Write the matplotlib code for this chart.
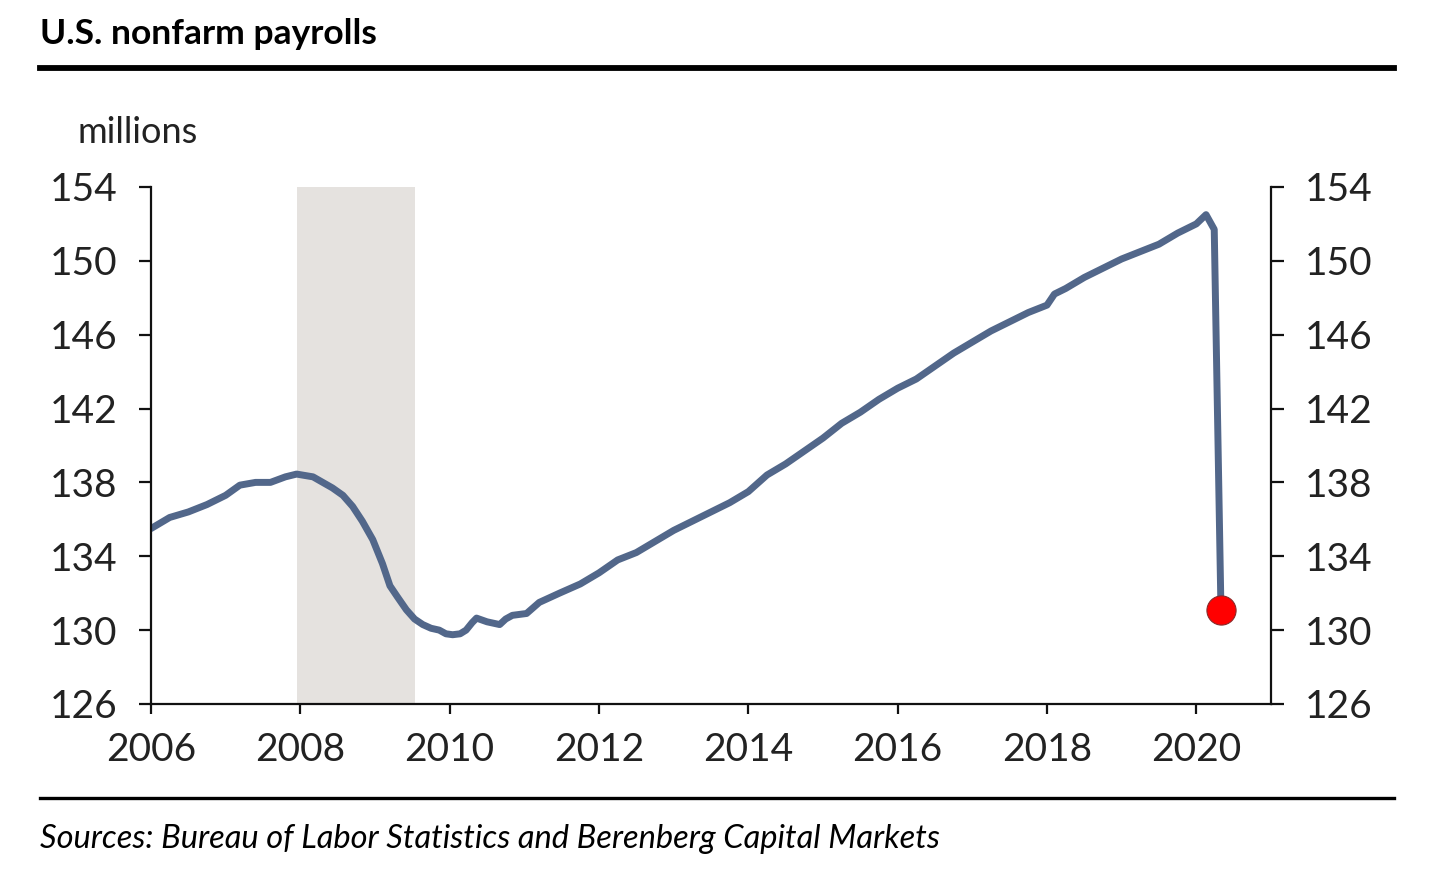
import matplotlib
matplotlib.use("Agg")
import matplotlib.pyplot as plt
from matplotlib.lines import Line2D

plt.rcParams['font.family'] = ['Lato', 'DejaVu Sans']

# data (decimal year, millions)
years = [2006.0, 2006.25, 2006.5, 2006.75, 2007.0, 2007.19, 2007.4, 2007.6, 2007.8, 2007.95,
         2008.17, 2008.3, 2008.43, 2008.57, 2008.7, 2008.83, 2008.97, 2009.1, 2009.2, 2009.3,
         2009.42, 2009.53, 2009.64, 2009.75, 2009.86, 2009.95, 2010.04, 2010.14, 2010.22, 2010.3,
         2010.36, 2010.5, 2010.67, 2010.75, 2010.84, 2011.03, 2011.2, 2011.47, 2011.75, 2012.0,
         2012.25, 2012.5, 2012.75, 2013.0, 2013.25, 2013.5, 2013.75, 2014.0, 2014.25, 2014.5,
         2014.75, 2015.0, 2015.25, 2015.5, 2015.75, 2016.0, 2016.25, 2016.5, 2016.75, 2017.0,
         2017.25, 2017.5, 2017.75, 2018.0, 2018.1, 2018.25, 2018.5, 2018.75, 2019.0, 2019.25,
         2019.5, 2019.75, 2020.0, 2020.13, 2020.24, 2020.33]
payrolls = [135.5, 136.1, 136.4, 136.8, 137.3, 137.85, 138.0, 138.0, 138.3, 138.45,
            138.3, 138.0, 137.7, 137.3, 136.7, 135.9, 134.9, 133.6, 132.4, 131.8,
            131.1, 130.6, 130.3, 130.1, 130.0, 129.8, 129.75, 129.8, 130.0, 130.4,
            130.65, 130.45, 130.3, 130.6, 130.8, 130.9, 131.5, 132.0, 132.5, 133.1,
            133.8, 134.2, 134.8, 135.4, 135.9, 136.4, 136.9, 137.5, 138.4, 139.0,
            139.7, 140.4, 141.2, 141.8, 142.5, 143.1, 143.6, 144.3, 145.0, 145.6,
            146.2, 146.7, 147.2, 147.6, 148.2, 148.5, 149.1, 149.6, 150.1, 150.5,
            150.9, 151.5, 152.0, 152.5, 151.7, 131.1]

recession = (2007.95, 2009.53)
yticks = [126, 130, 134, 138, 142, 146, 150, 154]
xticks = [2006, 2008, 2010, 2012, 2014, 2016, 2018, 2020]

fig = plt.figure(figsize=(14.3, 8.72), dpi=100)
ax = fig.add_axes([0.1056, 0.1927, 0.7832, 0.5929])

ax.axvspan(recession[0], recession[1], color='#e5e2df', lw=0, zorder=0)
ax.plot(years, payrolls, color='#52678a', lw=5.0, solid_capstyle='round',
        solid_joinstyle='round', zorder=2)
ax.plot(years[-1], payrolls[-1], 'o', color='#ff0000', markersize=21,
        markeredgecolor='#8a2a2a', markeredgewidth=0.8, zorder=3)

ax.set_xlim(2006, 2021)
ax.set_ylim(126, 154)
ax.set_yticks(yticks)
ax.set_xticks(xticks)

ax.spines['top'].set_visible(False)
for s in ['left', 'right', 'bottom']:
    ax.spines[s].set_linewidth(1.6)
    ax.spines[s].set_color('#111111')

ax.tick_params(axis='y', which='both', direction='out', length=9, width=1.6,
               labelsize=28, pad=15, colors='#111111', left=True, right=True,
               labelleft=True, labelright=True)
ax.tick_params(axis='x', direction='out', length=7, width=1.6, labelsize=28,
               pad=13, colors='#111111')
for lab in ax.get_xticklabels() + ax.get_yticklabels():
    lab.set_color('#222222')

fig.text(0.0545, 0.848, 'millions', fontsize=26, color='#222222', va='center')

fig.text(0.028, 0.961, 'U.S. nonfarm payrolls', fontsize=25.5, fontweight='bold',
         color='black', va='center')
fig.add_artist(Line2D([0.028, 0.975], [0.922, 0.922], color='black', lw=4.2,
                      transform=fig.transFigure))
fig.add_artist(Line2D([0.028, 0.975], [0.085, 0.085], color='black', lw=2.4,
                      transform=fig.transFigure))
fig.text(0.028, 0.038, 'Sources: Bureau of Labor Statistics and Berenberg Capital Markets',
         fontsize=23.5, style='italic', color='black', va='center')

fig.savefig('out.png', dpi=100, facecolor='white')
